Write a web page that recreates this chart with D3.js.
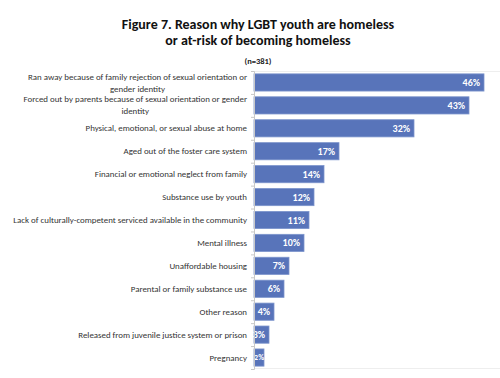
<!DOCTYPE html>
<html lang="en">
    <head>
        <meta charset="utf-8">
        <title>Figure 7</title>
        <script src="https://cdn.jsdelivr.net/npm/d3@7"></script>
        <style>
            body { margin: 0; background: #fff; }
            text { font-family: Carlito, "Open Sans", "Liberation Sans", sans-serif; }
        </style>
    </head>
    <body>
        <script>
            var w = 500, h = 378;

            //Chart data
            var reasons = [
                ["Ran away because of family rejection of sexual orientation or", "gender identity"],
                ["Forced out by parents because of sexual orientation or gender", "identity"],
                ["Physical, emotional, or sexual abuse at home"],
                ["Aged out of the foster care system"],
                ["Financial or emotional neglect from family"],
                ["Substance use by youth"],
                ["Lack of culturally-competent serviced available in the community"],
                ["Mental illness"],
                ["Unaffordable housing"],
                ["Parental or family substance use"],
                ["Other reason"],
                ["Released from juvenile justice system or prison"],
                ["Pregnancy"]
            ];
            var percents = [46, 43, 32, 17, 14, 12, 11, 10, 7, 6, 4, 3, 2];
            var titleLines = ["Figure 7.  Reason why LGBT youth are homeless", "or at-risk of becoming homeless"];
            var subtitle = "(n=381)";

            var svg = d3.select("body").append("svg")
                        .attr("width", w)
                        .attr("height", h);

            //Scales
            var xScale = d3.scaleLinear().domain([0, 49]).range([254, 499]);
            var yScale = d3.scaleBand()
                           .domain(d3.range(percents.length))
                           .range([71, 369])
                           .paddingInner(0.25)
                           .paddingOuter(0.125);

            //Title
            svg.selectAll("text.title")
                .data(titleLines)
                .enter()
                .append("text")
                .attr("class", "title")
                .attr("x", 258)
                .attr("y", function(d, i) { return 29 + i * 15.5; })
                .attr("text-anchor", "middle")
                .attr("font-size", "14px")
                .attr("font-weight", "bold")
                .attr("fill", "#111")
                .text(function(d) { return d; });

            svg.append("text")
                .attr("x", 258)
                .attr("y", 64)
                .attr("text-anchor", "middle")
                .attr("font-size", "8.5px")
                .attr("font-weight", "bold")
                .attr("fill", "#222")
                .text(subtitle);

            //Plot frame lines (faint)
            svg.append("line")
                .attr("x1", 254).attr("x2", 500)
                .attr("y1", 71.5).attr("y2", 71.5)
                .attr("stroke", "#eeeeee");
            svg.append("line")
                .attr("x1", 254).attr("x2", 500)
                .attr("y1", 368.5).attr("y2", 368.5)
                .attr("stroke", "#eeeeee");

            //Bars
            svg.selectAll("rect.bar")
                .data(percents)
                .enter()
                .append("rect")
                .attr("class", "bar")
                .attr("x", xScale(0))
                .attr("y", function(d, i) { return yScale(i); })
                .attr("width", function(d) { return xScale(d) - xScale(0); })
                .attr("height", yScale.bandwidth())
                .attr("fill", "#5874ba")
                .attr("stroke", "#7d95cc")
                .attr("stroke-width", 0.8);

            //Value labels
            svg.selectAll("text.value")
                .data(percents)
                .enter()
                .append("text")
                .attr("class", "value")
                .attr("x", function(d) { return xScale(d) - (d < 3 ? 0 : 4); })
                .attr("y", function(d, i) { return yScale(i) + yScale.bandwidth() / 2; })
                .attr("dy", "0.35em")
                .attr("text-anchor", "end")
                .attr("font-size", function(d) { return d < 3 ? "8px" : "10px"; })
                .attr("font-weight", "bold")
                .attr("fill", "#fff")
                .text(function(d) { return d + "%"; });

            //Y axis
            var yAxis = d3.axisLeft(d3.scaleLinear().domain([0, percents.length]).range([71, 369]))
                          .ticks(percents.length)
                          .tickSize(3)
                          .tickFormat("");
            svg.append("g")
                .attr("class", "axis")
                .attr("transform", "translate(254,0)")
                .call(yAxis)
                .call(function(g) {
                    g.selectAll("path,line").attr("stroke", "#c8c8c8");
                });

            //Category labels
            var labels = svg.selectAll("text.label")
                .data(reasons)
                .enter()
                .append("text")
                .attr("class", "label")
                .attr("font-size", "8.9px")
                .attr("fill", "#333")
                .attr("y", function(d, i) {
                    return yScale(i) + yScale.bandwidth() / 2 - (d.length - 1) * 6;
                });

            labels.each(function(d) {
                var t = d3.select(this);
                t.selectAll("tspan")
                    .data(d)
                    .enter()
                    .append("tspan")
                    .attr("x", 247)
                    .attr("dy", function(l, j) { return j === 0 ? "0.35em" : "12px"; })
                    .attr("text-anchor", "end")
                    .text(function(l) { return l; });
                //Excel centers wrapped lines under the first one
                if (d.length > 1) {
                    var tspans = t.selectAll("tspan").nodes();
                    var w0 = tspans[0].getComputedTextLength();
                    d3.select(tspans[1])
                        .attr("x", 247 - w0 / 2)
                        .attr("text-anchor", "middle");
                }
            });
        </script>
    </body>
</html>
